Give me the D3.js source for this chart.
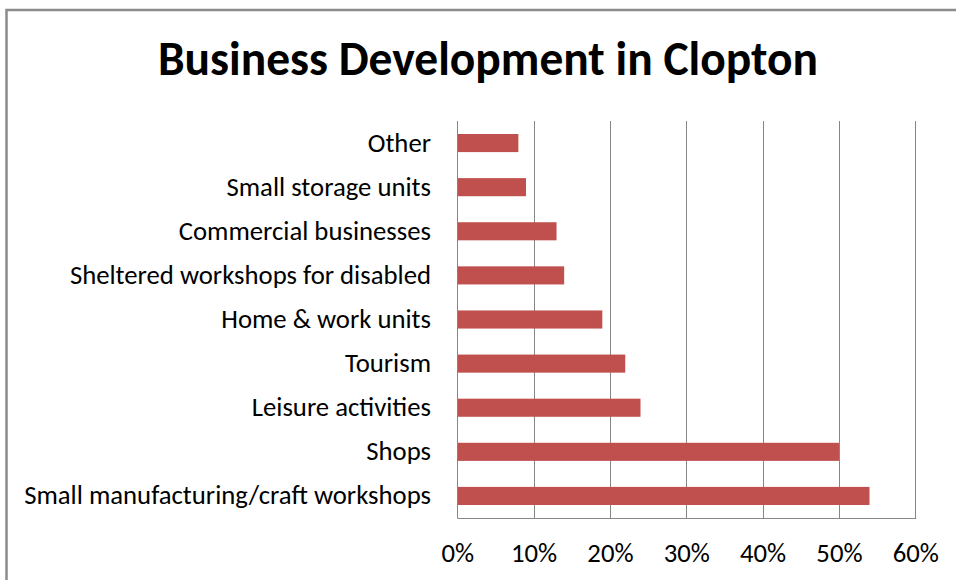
<!DOCTYPE html>
<html>
<head>
<meta charset="utf-8">
<script src="https://cdn.jsdelivr.net/npm/d3@7"></script>
<style>
  html, body { margin: 0; padding: 0; background: #fff; }
  svg { display: block; }
  text { font-family: Carlito, Calibri, Lato, "Open Sans", sans-serif; fill: #000; }
</style>
</head>
<body>
<svg id="chart" width="956" height="580"></svg>
<script>
// Survey results: share of respondents favouring each type of business
const categories = [
  "Other",
  "Small storage units",
  "Commercial businesses",
  "Sheltered workshops for disabled",
  "Home & work units",
  "Tourism",
  "Leisure activities",
  "Shops",
  "Small manufacturing/craft workshops"
];
const values = [0.08, 0.09, 0.13, 0.14, 0.19, 0.22, 0.24, 0.50, 0.54];
const tickValues = [0, 0.1, 0.2, 0.3, 0.4, 0.5, 0.6];
const title = "Business Development in Clopton";

const svg = d3.select("#chart");
const W = 956, H = 580;
const plot = { left: 457.3, right: 915.3, top: 121, bottom: 518 };
const gridColor = "#868686";
const barColor = "#C0504D";

// Chart frame (left and top edges visible inside the window)
svg.append("rect")
  .attr("x", 6.5).attr("y", 10)
  .attr("width", W + 20).attr("height", H + 20)
  .attr("fill", "#fff")
  .attr("stroke", "#8c8c8c").attr("stroke-width", 2.5);

const x = d3.scaleLinear().domain([0, 0.6]).range([plot.left, plot.right]);
const y = d3.scaleBand().domain(categories)
  .range([plot.top, plot.bottom])
  .paddingInner(0.59).paddingOuter(0.295);

// Vertical gridlines
svg.append("g").selectAll("line")
  .data(tickValues)
  .join("line")
  .attr("x1", d => Math.round(x(d)) + 0.5).attr("x2", d => Math.round(x(d)) + 0.5)
  .attr("y1", plot.top).attr("y2", plot.bottom)
  .attr("stroke", gridColor).attr("stroke-width", 1);

// Bars
svg.append("g").selectAll("rect")
  .data(categories)
  .join("rect")
  .attr("x", x(0) + 0.5)
  .attr("y", d => y(d))
  .attr("width", (d, i) => x(values[i]) - x(0) - 0.5)
  .attr("height", y.bandwidth())
  .attr("fill", barColor);

// Baseline along the bottom of the plot
svg.append("line")
  .attr("x1", plot.left).attr("x2", plot.right + 1)
  .attr("y1", plot.bottom + 0.5).attr("y2", plot.bottom + 0.5)
  .attr("stroke", gridColor).attr("stroke-width", 1);

// Fit a text element's font size so it spans the given width
function fitSize(sel, targetWidth, startSize) {
  sel.attr("font-size", startSize);
  const w = sel.node().getComputedTextLength();
  const size = startSize * targetWidth / w;
  sel.attr("font-size", size);
  return size;
}

// Category labels
const probe = svg.append("text").text(categories[categories.length - 1]);
const labelSize = fitSize(probe, 407, 20);
probe.remove();

svg.append("g").selectAll("text")
  .data(categories)
  .join("text")
  .attr("x", 431)
  .attr("y", d => y(d) + y.bandwidth() / 2 + labelSize * 0.32)
  .attr("text-anchor", "end")
  .attr("font-size", labelSize)
  .text(d => d);

// Percentage axis
const axis = d3.axisBottom(x)
  .tickValues(tickValues)
  .tickSize(0)
  .tickPadding(0)
  .tickFormat(d3.format(".0%"));

const axisG = svg.append("g")
  .attr("transform", `translate(0, ${plot.bottom})`)
  .call(axis);
axisG.select(".domain").remove();
axisG.selectAll("text")
  .attr("font-size", labelSize)
  .attr("font-family", null)
  .attr("fill", "#000")
  .attr("dy", null)
  .attr("y", 43.5);
axisG.attr("font-family", null).attr("font-size", null);

// Title
const t = svg.append("text")
  .attr("x", 488).attr("y", 75)
  .attr("text-anchor", "middle")
  .attr("font-weight", "bold")
  .text(title);
fitSize(t, 660, 40);
</script>
</body>
</html>
